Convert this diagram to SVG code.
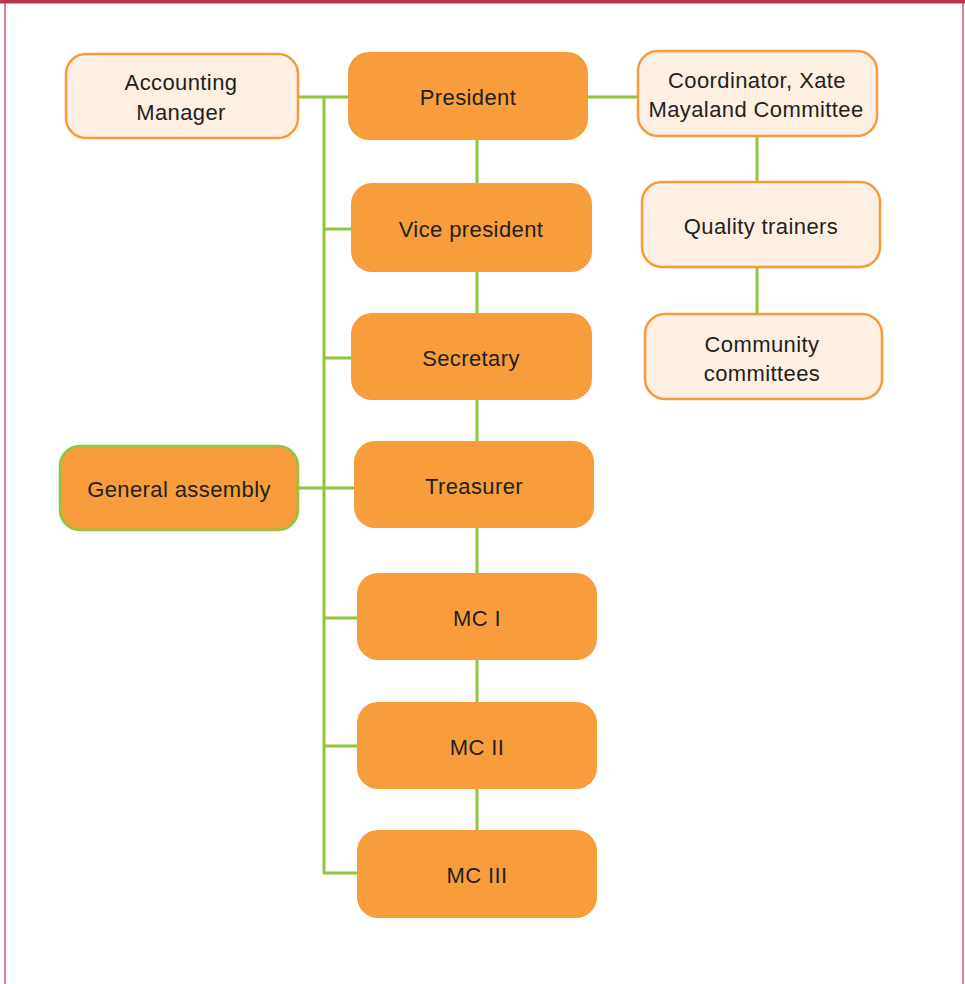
<svg xmlns="http://www.w3.org/2000/svg" width="965" height="984" viewBox="0 0 965 984">
  <style>
    .frame-top { fill: #b8364c; }
    .frame-side { stroke: #cc5a6e; stroke-width: 1.5; fill: none; }
    .conn { stroke: #8dc63f; stroke-width: 3; fill: none; }
    .light { fill: #fdefe2; stroke: #f59b3a; stroke-width: 2.5; }
    .solid { fill: #f79d3c; }
    .ga { fill: #f79d3c; stroke: #8dc63f; stroke-width: 2.5; }
    .label { font-family: "Liberation Sans", Arial, sans-serif; font-size: 22px; fill: #231f20; text-anchor: middle; letter-spacing: 0.4px; }
  </style>

  <rect width="965" height="984" fill="#ffffff"/>
  <!-- page frame -->
  <rect class="frame-top" x="0" y="0" width="965" height="3.5"/>
  <line class="frame-side" x1="5" y1="3" x2="5" y2="984"/>
  <line class="frame-side" x1="963" y1="3" x2="963" y2="984"/>

  <!-- connectors -->
  <g id="connectors">
    <!-- left bus -->
    <polyline class="conn" points="298,97 348,97"/>
    <polyline class="conn" points="324,97 324,873 357,873"/>
    <line class="conn" x1="324" y1="229" x2="351" y2="229"/>
    <line class="conn" x1="324" y1="358" x2="351" y2="358"/>
    <line class="conn" x1="299" y1="488" x2="354" y2="488"/>
    <line class="conn" x1="324" y1="618" x2="357" y2="618"/>
    <line class="conn" x1="324" y1="746" x2="357" y2="746"/>
    <!-- main chain -->
    <line class="conn" x1="477" y1="140" x2="477" y2="830"/>
    <!-- right branch -->
    <line class="conn" x1="588" y1="97" x2="638" y2="97"/>
    <line class="conn" x1="757" y1="137" x2="757" y2="314"/>
  </g>

  <g id="accounting-manager">
    <rect class="light" x="66" y="54" width="232" height="84" rx="20"/>
    <text class="label" x="181" y="90">Accounting</text>
    <text class="label" x="181" y="120">Manager</text>
  </g>

  <g id="president">
    <rect class="solid" x="348" y="52" width="240" height="88" rx="21"/>
    <text class="label" x="468" y="105">President</text>
  </g>

  <g id="coordinator">
    <rect class="light" x="638" y="51" width="239" height="85" rx="20"/>
    <text class="label" x="757" y="88">Coordinator, Xate</text>
    <text class="label" x="756" y="117">Mayaland Committee</text>
  </g>

  <g id="quality-trainers">
    <rect class="light" x="642" y="182" width="238" height="85" rx="20"/>
    <text class="label" x="761" y="234">Quality trainers</text>
  </g>

  <g id="community-committees">
    <rect class="light" x="645" y="314" width="237" height="85" rx="20"/>
    <text class="label" x="762" y="352">Community</text>
    <text class="label" x="762" y="381">committees</text>
  </g>

  <g id="vice-president">
    <rect class="solid" x="351" y="183" width="241" height="89" rx="21"/>
    <text class="label" x="471" y="237">Vice president</text>
  </g>

  <g id="secretary">
    <rect class="solid" x="351" y="313" width="241" height="87" rx="21"/>
    <text class="label" x="471" y="366">Secretary</text>
  </g>

  <g id="general-assembly">
    <rect class="ga" x="60" y="446" width="238" height="84" rx="20"/>
    <text class="label" x="179" y="497">General assembly</text>
  </g>

  <g id="treasurer">
    <rect class="solid" x="354" y="441" width="240" height="87" rx="21"/>
    <text class="label" x="474" y="494">Treasurer</text>
  </g>

  <g id="mc-1">
    <rect class="solid" x="357" y="573" width="240" height="87" rx="21"/>
    <text class="label" x="477" y="626">MC I</text>
  </g>

  <g id="mc-2">
    <rect class="solid" x="357" y="702" width="240" height="87" rx="21"/>
    <text class="label" x="477" y="755">MC II</text>
  </g>

  <g id="mc-3">
    <rect class="solid" x="357" y="830" width="240" height="88" rx="21"/>
    <text class="label" x="477" y="883">MC III</text>
  </g>
</svg>
